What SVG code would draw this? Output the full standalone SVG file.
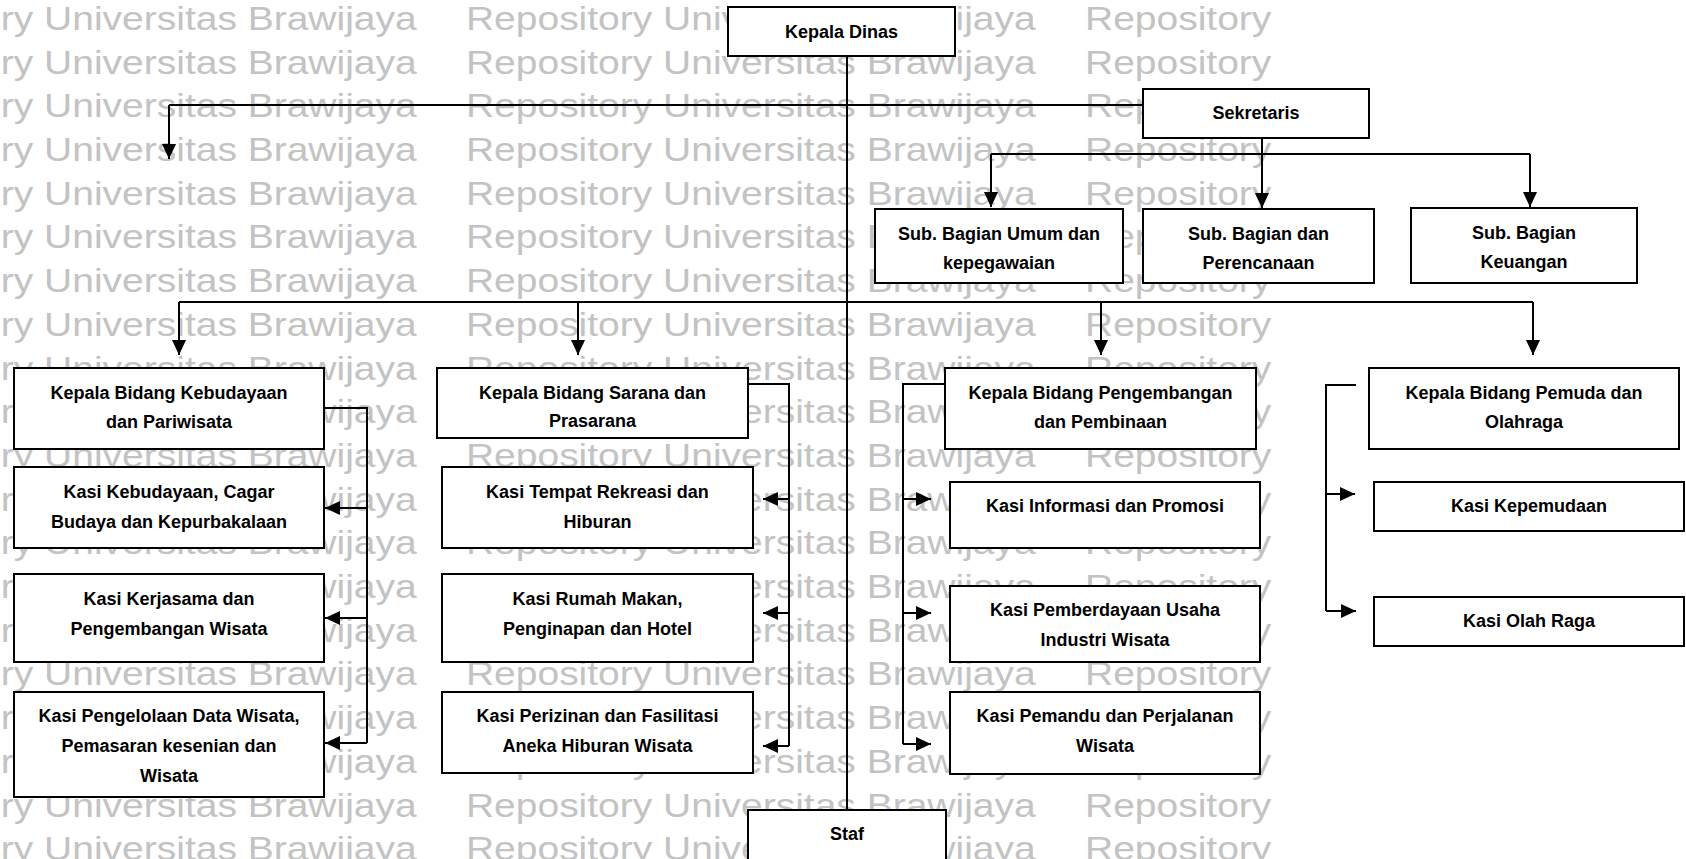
<svg xmlns="http://www.w3.org/2000/svg" width="1686" height="859" viewBox="0 0 1686 859">
<style>
.wm{font-family:"Liberation Sans",Arial,sans-serif;font-size:32.5px;fill:#c3c3c3}
.box{fill:#fff;stroke:#000;stroke-width:2}
.lbl{font-family:"Liberation Sans",Arial,sans-serif;font-size:18px;font-weight:bold;fill:#000;text-anchor:middle}
.ln{fill:none;stroke:#000;stroke-width:2}
.ar{fill:none;stroke:#000;stroke-width:2;marker-end:url(#arr)}
</style>
<defs>
<marker id="arr" viewBox="0 0 15 14" refX="15" refY="7" markerWidth="15" markerHeight="14" markerUnits="userSpaceOnUse" orient="auto">
<path d="M0,0 L15,7 L0,14 Z" fill="#000"/>
</marker>
</defs>
<rect width="1686" height="859" fill="#fff"/>
<g id="watermark" class="wm" transform="scale(1.2 1)">
<text y="30"><tspan x="-127.5">Repository Universitas Brawijaya</tspan><tspan x="388.3">Repository Universitas Brawijaya</tspan><tspan x="904.2">Repository</tspan></text>
<text y="73.7"><tspan x="-127.5">Repository Universitas Brawijaya</tspan><tspan x="388.3">Repository Universitas Brawijaya</tspan><tspan x="904.2">Repository</tspan></text>
<text y="117.4"><tspan x="-127.5">Repository Universitas Brawijaya</tspan><tspan x="388.3">Repository Universitas Brawijaya</tspan><tspan x="904.2">Repository</tspan></text>
<text y="161.1"><tspan x="-127.5">Repository Universitas Brawijaya</tspan><tspan x="388.3">Repository Universitas Brawijaya</tspan><tspan x="904.2">Repository</tspan></text>
<text y="204.8"><tspan x="-127.5">Repository Universitas Brawijaya</tspan><tspan x="388.3">Repository Universitas Brawijaya</tspan><tspan x="904.2">Repository</tspan></text>
<text y="248.5"><tspan x="-127.5">Repository Universitas Brawijaya</tspan><tspan x="388.3">Repository Universitas Brawijaya</tspan><tspan x="904.2">Repository</tspan></text>
<text y="292.2"><tspan x="-127.5">Repository Universitas Brawijaya</tspan><tspan x="388.3">Repository Universitas Brawijaya</tspan><tspan x="904.2">Repository</tspan></text>
<text y="335.9"><tspan x="-127.5">Repository Universitas Brawijaya</tspan><tspan x="388.3">Repository Universitas Brawijaya</tspan><tspan x="904.2">Repository</tspan></text>
<text y="379.6"><tspan x="-127.5">Repository Universitas Brawijaya</tspan><tspan x="388.3">Repository Universitas Brawijaya</tspan><tspan x="904.2">Repository</tspan></text>
<text y="423.3"><tspan x="-127.5">Repository Universitas Brawijaya</tspan><tspan x="388.3">Repository Universitas Brawijaya</tspan><tspan x="904.2">Repository</tspan></text>
<text y="467"><tspan x="-127.5">Repository Universitas Brawijaya</tspan><tspan x="388.3">Repository Universitas Brawijaya</tspan><tspan x="904.2">Repository</tspan></text>
<text y="510.7"><tspan x="-127.5">Repository Universitas Brawijaya</tspan><tspan x="388.3">Repository Universitas Brawijaya</tspan><tspan x="904.2">Repository</tspan></text>
<text y="554.4"><tspan x="-127.5">Repository Universitas Brawijaya</tspan><tspan x="388.3">Repository Universitas Brawijaya</tspan><tspan x="904.2">Repository</tspan></text>
<text y="598.1"><tspan x="-127.5">Repository Universitas Brawijaya</tspan><tspan x="388.3">Repository Universitas Brawijaya</tspan><tspan x="904.2">Repository</tspan></text>
<text y="641.8"><tspan x="-127.5">Repository Universitas Brawijaya</tspan><tspan x="388.3">Repository Universitas Brawijaya</tspan><tspan x="904.2">Repository</tspan></text>
<text y="685.5"><tspan x="-127.5">Repository Universitas Brawijaya</tspan><tspan x="388.3">Repository Universitas Brawijaya</tspan><tspan x="904.2">Repository</tspan></text>
<text y="729.2"><tspan x="-127.5">Repository Universitas Brawijaya</tspan><tspan x="388.3">Repository Universitas Brawijaya</tspan><tspan x="904.2">Repository</tspan></text>
<text y="772.9"><tspan x="-127.5">Repository Universitas Brawijaya</tspan><tspan x="388.3">Repository Universitas Brawijaya</tspan><tspan x="904.2">Repository</tspan></text>
<text y="816.6"><tspan x="-127.5">Repository Universitas Brawijaya</tspan><tspan x="388.3">Repository Universitas Brawijaya</tspan><tspan x="904.2">Repository</tspan></text>
<text y="860.3"><tspan x="-127.5">Repository Universitas Brawijaya</tspan><tspan x="388.3">Repository Universitas Brawijaya</tspan><tspan x="904.2">Repository</tspan></text>
</g>
<g id="connectors">
<path class="ln" d="M847,56 V810"/>
<path class="ln" d="M169,105 H1143"/>
<path class="ar" d="M169,105 V159"/>
<path class="ar" d="M1262,138 V208"/>
<path class="ln" d="M991,154 H1530"/>
<path class="ar" d="M991,154 V207"/>
<path class="ar" d="M1530,154 V207"/>
<path class="ln" d="M179,302 H1533"/>
<path class="ar" d="M179,302 V355"/>
<path class="ar" d="M578,302 V355"/>
<path class="ar" d="M1101,302 V355"/>
<path class="ar" d="M1533,302 V355"/>
<path class="ln" d="M324,408 H367 V743"/>
<path class="ar" d="M367,508 H325"/>
<path class="ar" d="M367,618 H325"/>
<path class="ar" d="M367,743 H325"/>
<path class="ln" d="M748,384 H789 V746"/>
<path class="ar" d="M789,499 H763"/>
<path class="ar" d="M789,613 H763"/>
<path class="ar" d="M789,746 H763"/>
<path class="ln" d="M945,384 H903 V744"/>
<path class="ar" d="M903,499 H931"/>
<path class="ar" d="M903,613 H931"/>
<path class="ar" d="M903,744 H931"/>
<path class="ln" d="M1356,385 H1326 V611"/>
<path class="ar" d="M1326,494 H1355"/>
<path class="ar" d="M1326,611 H1356"/>
</g>
<g id="kepala-dinas"><rect class="box" x="728" y="7" width="227" height="49"/><text class="lbl" x="841.5" y="38">Kepala Dinas</text></g>
<g id="sekretaris"><rect class="box" x="1143" y="89" width="226" height="49"/><text class="lbl" x="1256" y="119">Sekretaris</text></g>
<g id="sub-umum"><rect class="box" x="875" y="209" width="248" height="74"/><text class="lbl" x="999" y="240">Sub. Bagian Umum dan</text><text class="lbl" x="999" y="269">kepegawaian</text></g>
<g id="sub-perencanaan"><rect class="box" x="1143" y="209" width="231" height="74"/><text class="lbl" x="1258.5" y="240">Sub. Bagian dan</text><text class="lbl" x="1258.5" y="269">Perencanaan</text></g>
<g id="sub-keuangan"><rect class="box" x="1411" y="208" width="226" height="75"/><text class="lbl" x="1524" y="239">Sub. Bagian</text><text class="lbl" x="1524" y="268">Keuangan</text></g>
<g id="kabid-kebudayaan"><rect class="box" x="14" y="368" width="310" height="81"/><text class="lbl" x="169" y="399">Kepala Bidang Kebudayaan</text><text class="lbl" x="169" y="428">dan Pariwisata</text></g>
<g id="kasi-kebudayaan"><rect class="box" x="14" y="467" width="310" height="81"/><text class="lbl" x="169" y="498">Kasi Kebudayaan, Cagar</text><text class="lbl" x="169" y="528">Budaya dan Kepurbakalaan</text></g>
<g id="kasi-kerjasama"><rect class="box" x="14" y="574" width="310" height="88"/><text class="lbl" x="169" y="605">Kasi Kerjasama dan</text><text class="lbl" x="169" y="635">Pengembangan Wisata</text></g>
<g id="kasi-pengelolaan"><rect class="box" x="14" y="692" width="310" height="105"/><text class="lbl" x="169" y="722">Kasi Pengelolaan Data Wisata,</text><text class="lbl" x="169" y="752">Pemasaran kesenian dan</text><text class="lbl" x="169" y="782">Wisata</text></g>
<g id="kabid-sarana"><rect class="box" x="437" y="368" width="311" height="70"/><text class="lbl" x="592.5" y="399">Kepala Bidang Sarana dan</text><text class="lbl" x="592.5" y="427">Prasarana</text></g>
<g id="kasi-rekreasi"><rect class="box" x="442" y="467" width="311" height="81"/><text class="lbl" x="597.5" y="498">Kasi Tempat Rekreasi dan</text><text class="lbl" x="597.5" y="528">Hiburan</text></g>
<g id="kasi-rumah-makan"><rect class="box" x="442" y="574" width="311" height="88"/><text class="lbl" x="597.5" y="605">Kasi Rumah Makan,</text><text class="lbl" x="597.5" y="635">Penginapan dan Hotel</text></g>
<g id="kasi-perizinan"><rect class="box" x="442" y="692" width="311" height="81"/><text class="lbl" x="597.5" y="722">Kasi Perizinan dan Fasilitasi</text><text class="lbl" x="597.5" y="752">Aneka Hiburan Wisata</text></g>
<g id="kabid-pengembangan"><rect class="box" x="945" y="368" width="311" height="81"/><text class="lbl" x="1100.5" y="399">Kepala Bidang Pengembangan</text><text class="lbl" x="1100.5" y="428">dan Pembinaan</text></g>
<g id="kasi-informasi"><rect class="box" x="950" y="482" width="310" height="66"/><text class="lbl" x="1105" y="512">Kasi Informasi dan Promosi</text></g>
<g id="kasi-pemberdayaan"><rect class="box" x="950" y="586" width="310" height="76"/><text class="lbl" x="1105" y="616">Kasi Pemberdayaan Usaha</text><text class="lbl" x="1105" y="646">Industri Wisata</text></g>
<g id="kasi-pemandu"><rect class="box" x="950" y="692" width="310" height="82"/><text class="lbl" x="1105" y="722">Kasi Pemandu dan Perjalanan</text><text class="lbl" x="1105" y="752">Wisata</text></g>
<g id="kabid-pemuda"><rect class="box" x="1369" y="368" width="310" height="81"/><text class="lbl" x="1524" y="399">Kepala Bidang Pemuda dan</text><text class="lbl" x="1524" y="428">Olahraga</text></g>
<g id="kasi-kepemudaan"><rect class="box" x="1374" y="482" width="310" height="49"/><text class="lbl" x="1529" y="512">Kasi Kepemudaan</text></g>
<g id="kasi-olahraga"><rect class="box" x="1374" y="597" width="310" height="49"/><text class="lbl" x="1529" y="627">Kasi Olah Raga</text></g>
<g id="staf"><rect class="box" x="748" y="810" width="198" height="60"/><text class="lbl" x="847" y="840">Staf</text></g>
</svg>
